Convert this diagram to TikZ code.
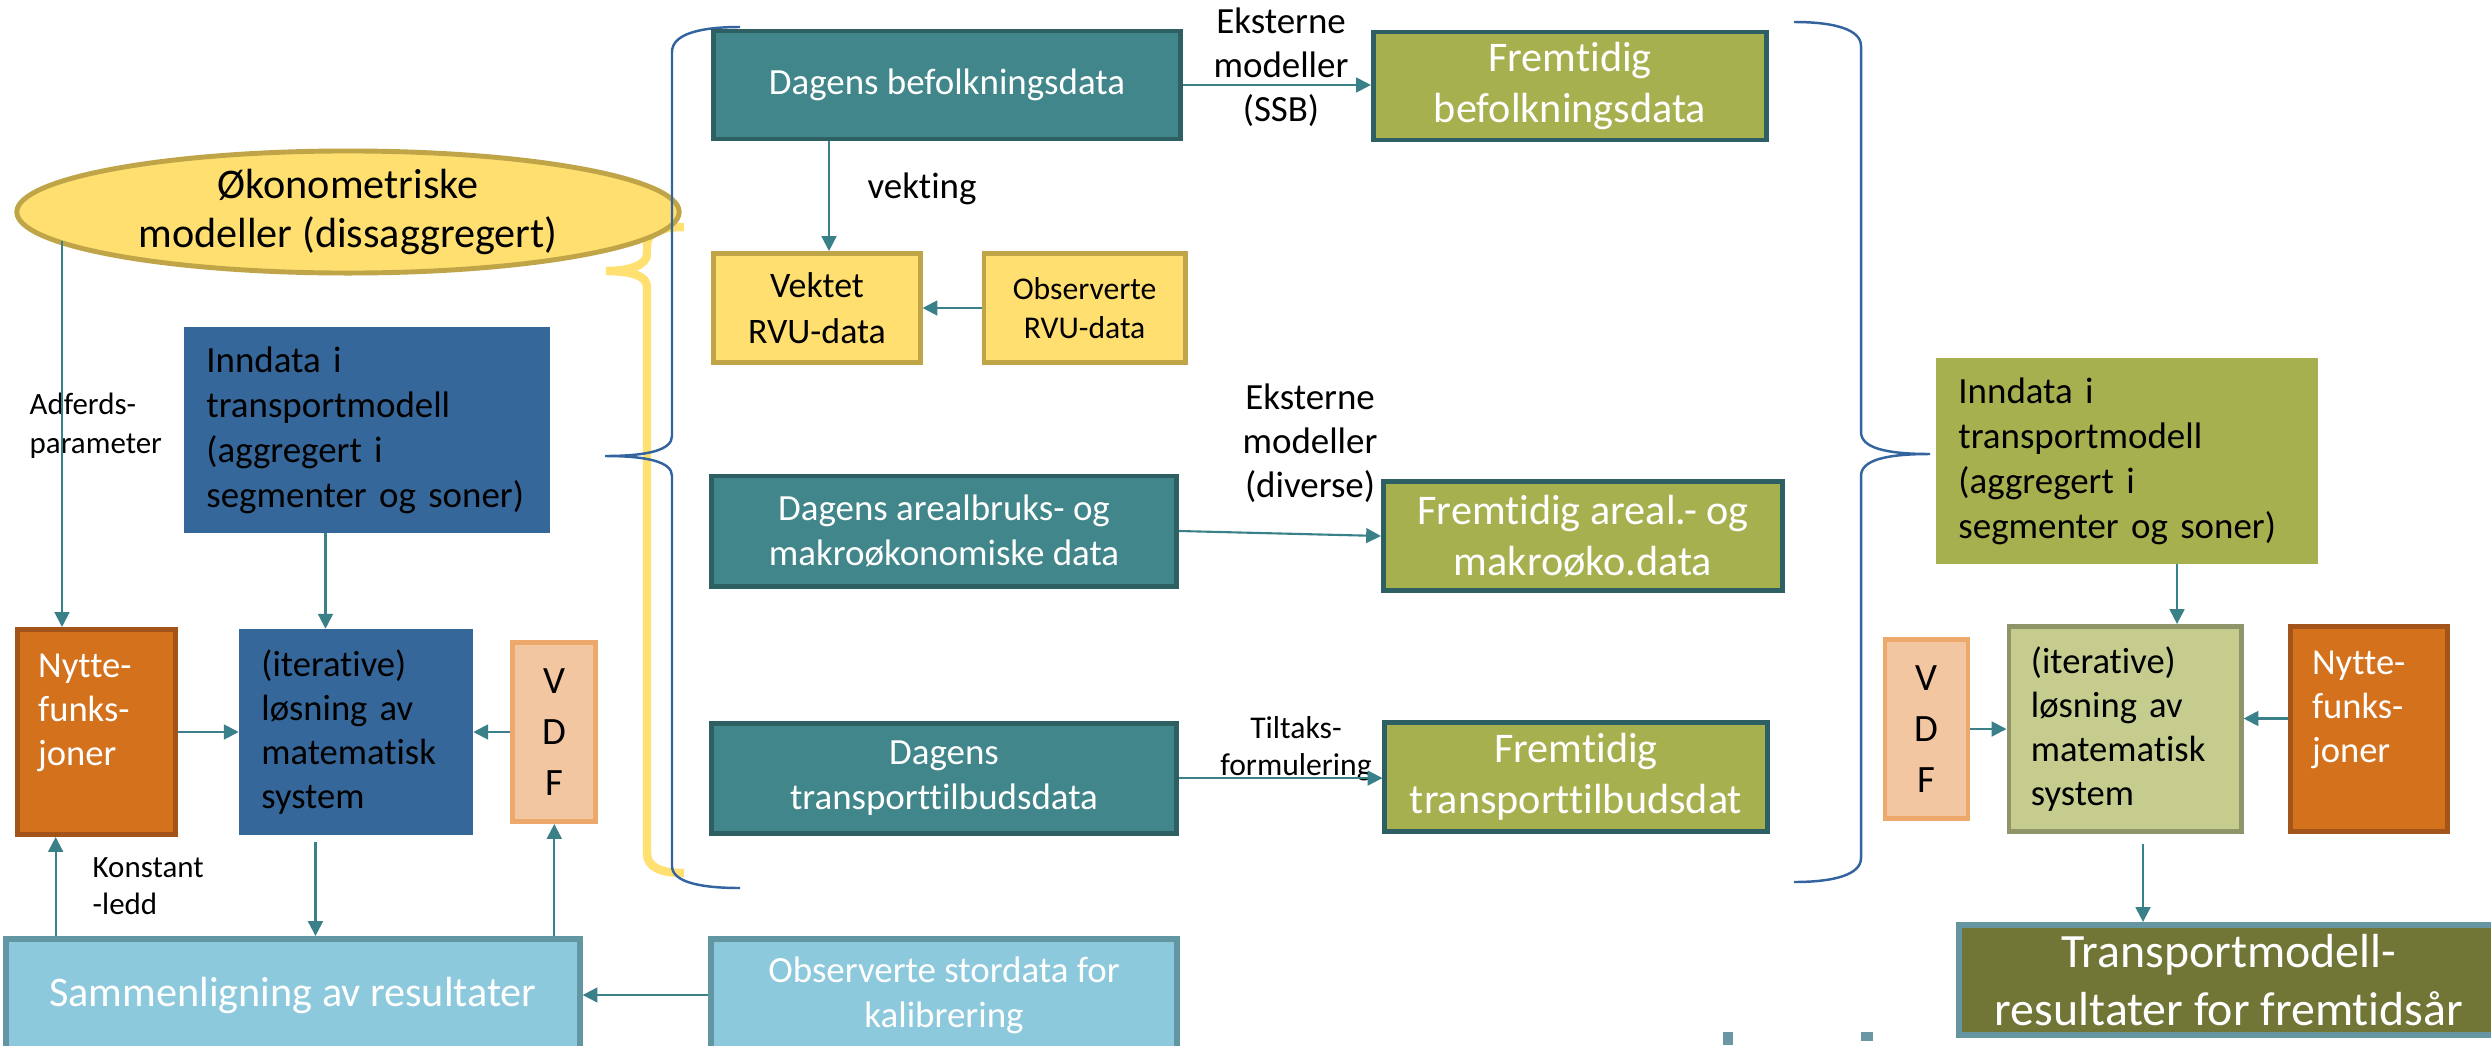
\documentclass[tikz,border=0pt]{standalone}
\usepackage{fontspec}
\setmainfont{Carlito}[Ligatures=NoCommon]
\usetikzlibrary{positioning,arrows.meta,shapes.geometric}

\definecolor{dagfill}{HTML}{41868A}
\definecolor{dagline}{HTML}{2D5F63}
\definecolor{futfill}{HTML}{A7B04F}
\definecolor{rvufill}{HTML}{FFDF70}
\definecolor{rvuline}{HTML}{BFA548}
\definecolor{bluefill}{HTML}{35679A}
\definecolor{nyttefill}{HTML}{D4711D}
\definecolor{nytteline}{HTML}{A3541A}
\definecolor{vdffill}{HTML}{F2C6A0}
\definecolor{vdfline}{HTML}{EDA96C}
\definecolor{itrfill}{HTML}{C6CB8E}
\definecolor{itrline}{HTML}{8F9568}
\definecolor{calfill}{HTML}{8DC9DC}
\definecolor{calline}{HTML}{6396A3}
\definecolor{resfill}{HTML}{717636}
\definecolor{resline}{HTML}{6495A1}
\definecolor{arrowcol}{HTML}{3A8088}
\definecolor{bracecol}{HTML}{3464A0}
\definecolor{braceyel}{HTML}{FFE070}
\definecolor{logocol}{HTML}{6A97A3}

\begin{document}
\begin{tikzpicture}[x=0.01cm, y=-0.01cm,
dagbox/.style={draw=dagline, fill=dagfill, line width=1.4pt, text=white, align=center, inner ysep=2pt, font=\fontsize{10.5}{12.8}\selectfont},
futbox/.style={draw=dagline, fill=futfill, line width=1.4pt, text=white, align=center, inner ysep=2pt, font=\fontsize{12}{14.5}\selectfont},
rvubox/.style={draw=rvuline, fill=rvufill, line width=1.4pt, align=center, inner ysep=2pt, minimum height=1.09cm},
inbox/.style={fill=#1, align=left, inner xsep=0.22cm, inner ysep=2pt, minimum height=2.05cm, font=\fontsize{10.5}{12.8}\selectfont},
nyttebox/.style={draw=nytteline, fill=nyttefill, line width=1.4pt, text=white, align=left, inner ysep=2pt, minimum height=2.05cm, font=\fontsize{10.4}{12.5}\selectfont},
vdfbox/.style={draw=vdfline, fill=vdffill, line width=1.4pt, align=center, inner ysep=2pt, minimum width=0.83cm, font=\fontsize{11}{14.5}\selectfont},
calbox/.style={draw=calline, fill=calfill, line width=1.7pt, text=white, align=center, inner ysep=2pt, minimum height=1.12cm},
note/.style={align=center, inner sep=0pt, font=\fontsize{10.5}{12.5}\selectfont},
arrow/.style={draw=arrowcol, line width=0.6pt, -{Triangle[length=4.2pt, width=4.2pt]}},
brace/.style={draw=bracecol, line width=0.7pt},
ybrace/.style={draw=braceyel, line width=2.4pt},
]
\useasboundingbox (0,0) rectangle (2491,1045);
\clip (0,0) rectangle (2491,1045);
\fill[white] (0,0) rectangle (2491,1045);

\draw[ybrace] (684,227) .. controls (660,227) and (647,233) .. (647,245) -- (647,254) .. controls (647,264) and (632,271) .. (606,271) .. controls (632,271) and (647,276) .. (647,287) -- (647,853) .. controls (647,867) and (660,873) .. (684,873);

\node[ellipse, draw=rvuline, fill=rvufill, line width=1.4pt, minimum width=6.62cm, minimum height=1.22cm, inner sep=0pt] (oko) at (348,212) {};
\node[align=center, inner sep=0pt, font=\fontsize{12}{14.2}\selectfont] (okotext) at (oko.center) {Økonometriske\\modeller (dissaggregert)};

\draw[brace] (740,27) .. controls (700,27) and (672,34) .. (672,52) -- (672,436) .. controls (672,450) and (648,456) .. (605,456) .. controls (648,456) and (672,462) .. (672,476) -- (672,866) .. controls (672,882) and (700,888) .. (740,888);
\draw[brace] (1794,22) .. controls (1836,22) and (1861,30) .. (1861,46) -- (1861,432) .. controls (1861,448) and (1886,454) .. (1930,454) .. controls (1886,454) and (1861,460) .. (1861,476) -- (1861,858) .. controls (1861,874) and (1836,882) .. (1794,882);

\node[dagbox, minimum width=4.66cm, minimum height=1.08cm] (befolk) at (947,85) {Dagens befolkningsdata};
\node[futbox, minimum width=3.93cm, minimum height=1.08cm] (fbefolk) at (1570,86) {Fremtidig\\befolkningsdata};
\node[rvubox, minimum width=2.06cm, font=\fontsize{10.2}{13}\selectfont] (vektet) at (817,308) {Vektet\\RVU-data};
\node[rvubox, minimum width=2.01cm, font=\fontsize{9}{11}\selectfont, right=0.59cm of vektet] (obsrvu) {Observerte\\RVU-data};
\node[dagbox, minimum width=4.65cm, minimum height=1.10cm] (areal) at (944,531) {Dagens arealbruks- og\\makroøkonomiske data};
\node[dagbox, minimum width=4.65cm, minimum height=1.10cm, below=1.32cm of areal] (transp) {Dagens\\transporttilbudsdata};
\node[futbox, minimum width=3.99cm, minimum height=1.09cm] (fareal) at (1583,536) {Fremtidig areal.- og\\makroøko.data};
\node[futbox, minimum width=3.82cm, minimum height=1.09cm] (ftransp) at (1576,777) {Fremtidig\\transporttilbudsdat};
\node[calbox, minimum width=5.73cm, font=\fontsize{12}{14}\selectfont] (sammen) at (293,995) {Sammenligning av resultater};
\node[calbox, minimum width=4.65cm, font=\fontsize{10.5}{12.8}\selectfont] (stordata) at (944,995) {Observerte stordata for\\kalibrering};

\node[inbox=bluefill, text width=3.21cm] (inndL) at (367,430) {Inndata i\\transportmodell\\(aggregert i\\segmenter og soner)};
\node[inbox=bluefill, text width=1.89cm, font=\fontsize{10.4}{12.5}\selectfont] (iterL) at (356,732) {(iterative)\\løsning av\\matematisk\\system};
\node[nyttebox, text width=1.16cm, inner xsep=0.21cm, left=0.61cm of iterL] (nytteL) {Nytte-\\funks-\\joner\\\mbox{}};
\node[vdfbox, minimum height=1.79cm, right=0.37cm of iterL] (vdfL) {V\\D\\F};

\node[inbox=futfill, text width=3.37cm] (inndR) at (2127,461) {Inndata i\\transportmodell\\(aggregert i\\segmenter og soner)};
\node[inbox=itrfill, draw=itrline, line width=1.4pt, text width=1.88cm, font=\fontsize{10.4}{12.5}\selectfont] (iterR) at (2125,729) {(iterative)\\løsning av\\matematisk\\system};
\node[vdfbox, minimum height=1.78cm, left=0.36cm of iterR] (vdfR) {V\\D\\F};
\node[nyttebox, text width=1.13cm, inner xsep=0.22cm, right=0.44cm of iterR] (nytteR) {Nytte-\\funks-\\joner\\\mbox{}};
\node[calbox, draw=resline, fill=resfill, minimum width=5.40cm, minimum height=1.10cm, inner ysep=0pt, font=\fontsize{13.6}{16.4}\selectfont] (resR) at (2229,980) {Transportmodell-\\resultater for fremtidsår};

\node[note] (eksSSB) at (1281,67) {Eksterne\\modeller\\(SSB)};
\node[note] (vekting) at (922,189) {vekting};
\node[note] (eksDiv) at (1310,443) {Eksterne\\modeller\\(diverse)};
\node[note, font=\fontsize{9}{10.6}\selectfont] (tiltak) at (1296,749) {Tiltaks-\\formulering};
\node[note, align=left, anchor=west, font=\fontsize{8.8}{11}\selectfont] (adferd) at (29,426) {Adferds-\\parameter};
\node[note, align=left, anchor=west, font=\fontsize{8.8}{10.5}\selectfont] (konst) at (92,886) {Konstant\\-ledd};

\coordinate (adfstart) at (62,241);
\draw[arrow] (adfstart) -- (adfstart |- nytteL.north);
\draw[arrow] ([xshift=-4.15mm]inndL.south) -- ([xshift=-4.15mm]inndL.south |- iterL.north);
\draw[arrow] (nytteL.east) -- (iterL.west);
\draw[arrow] (vdfL.west) -- (iterL.east);
\draw[arrow, shorten <=2pt] ([xshift=-4.05mm]iterL.south) -- ([xshift=-4.05mm]iterL.south |- sammen.north);
\draw[arrow] ([xshift=-4.05mm]nytteL.south |- sammen.north) -- ([xshift=-4.05mm]nytteL.south);
\draw[arrow] (vdfL.south |- sammen.north) -- (vdfL.south);
\draw[arrow] (stordata.west) -- (sammen.east);
\draw[arrow] ([xshift=1.2mm]vektet.north |- befolk.south) -- ([xshift=1.2mm]vektet.north);
\draw[arrow] (obsrvu.west) -- (vektet.east);
\draw[arrow] (befolk.east) -- (befolk.east -| fbefolk.west);
\draw[arrow] (areal.east) -- (fareal.west);
\draw[arrow] (transp.east) -- (transp.east -| ftransp.west);
\draw[arrow] ([xshift=5mm]inndR.south) -- ([xshift=5mm]inndR.south |- iterR.north);
\draw[arrow] (vdfR.east) -- (iterR.west);
\draw[arrow] ([yshift=1.05mm]nytteR.west) -- ([yshift=1.05mm]nytteR.west -| iterR.east);
\draw[arrow, shorten <=2.8pt] ([xshift=1.8mm]iterR.south) -- ([xshift=1.8mm]iterR.south |- resR.north);

\fill[logocol] (1723,1032) rectangle (1733,1045);
\fill[logocol] (1861,1032) rectangle (1873,1041);
\end{tikzpicture}
\end{document}
